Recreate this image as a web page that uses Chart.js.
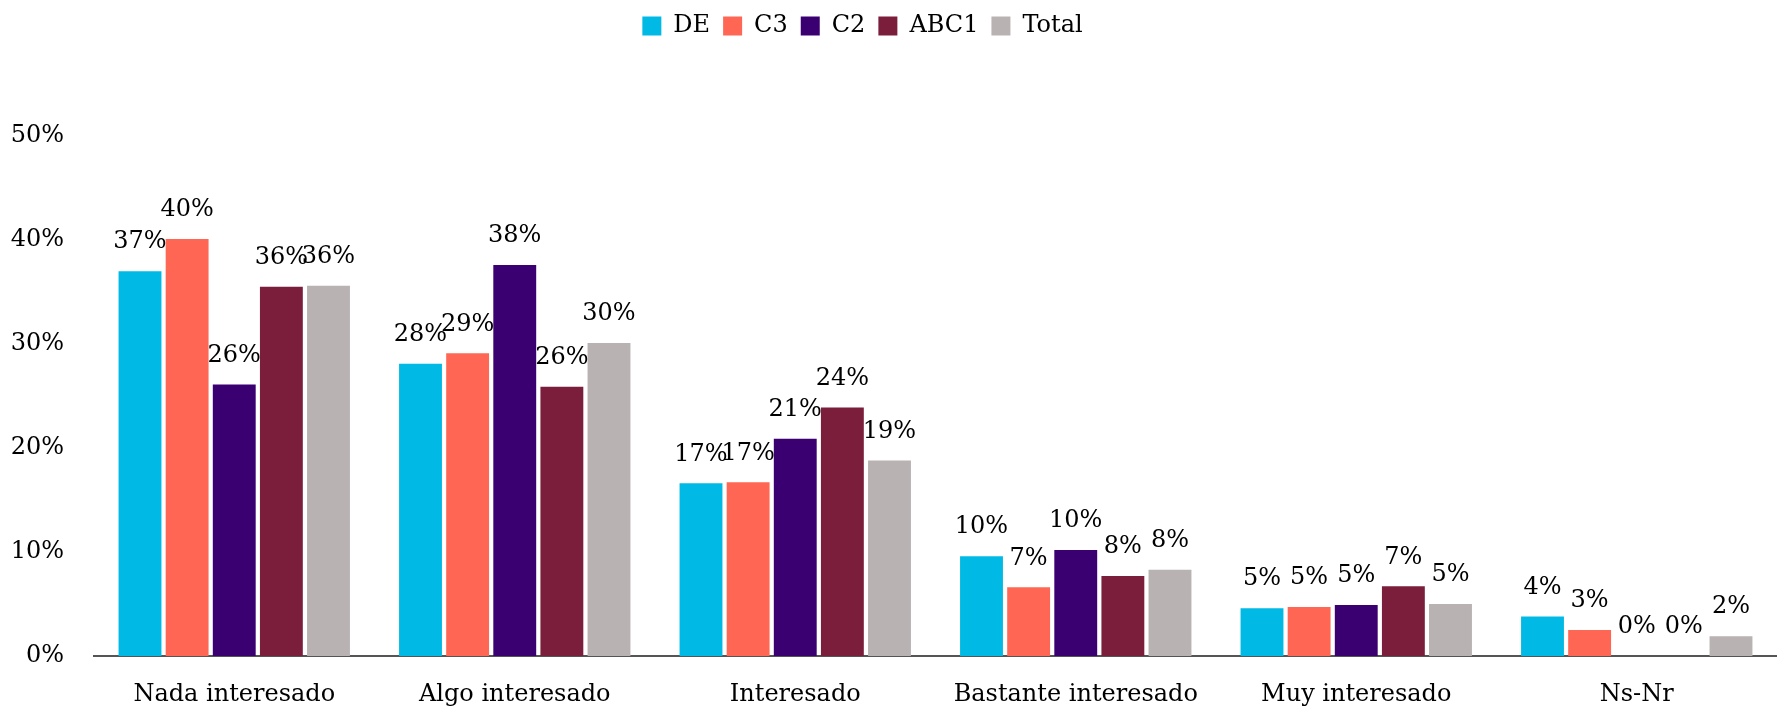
<!DOCTYPE html>
<html lang="es">
<head>
<meta charset="utf-8">
<title>Interés por nivel socioeconómico</title>
<script src="https://cdn.jsdelivr.net/npm/chart.js@4.4.1/dist/chart.umd.min.js"></script>
<style>
  html, body { margin: 0; padding: 0; background: #fff; }
  #wrap { width: 1777px; height: 711px; position: relative; }
</style>
</head>
<body>
<div id="wrap"><canvas id="chart"></canvas></div>
<script>
/* ============================================================
   DATA
============================================================ */
const categories = ['Nada interesado', 'Algo interesado', 'Interesado', 'Bastante interesado', 'Muy interesado', 'Ns-Nr'];
const seriesNames = ['DE', 'C3', 'C2', 'ABC1', 'Total'];
const valDE    = [37.0, 28.1, 16.6, 9.6, 4.6, 3.8];
const valC3    = [40.1, 29.1, 16.7, 6.6, 4.7, 2.5];
const valC2    = [26.1, 37.6, 20.9, 10.2, 4.9, 0];
const valABC1  = [35.5, 25.9, 23.9, 7.7, 6.7, 0];
const valTotal = [35.6, 30.1, 18.8, 8.3, 5.0, 1.9];
const yTicks = [0, 10, 20, 30, 40, 50];

const colors = ['#00b9e4', '#ff6754', '#3a0072', '#7a1e3c', '#b8b2b2'];
const FONT = "'DejaVu Serif', serif";

/* ============================================================
   PLUGINS — etiquetas de valor y leyenda
============================================================ */
const valueLabels = {
  id: 'valueLabels',
  afterDatasetsDraw(chart) {
    const { ctx } = chart;
    ctx.save();
    ctx.font = '24px ' + FONT;
    ctx.fillStyle = '#000';
    ctx.textAlign = 'center';
    ctx.textBaseline = 'bottom';
    chart.data.datasets.forEach((ds, i) => {
      chart.getDatasetMeta(i).data.forEach((bar, j) => {
        ctx.fillText(Math.round(ds.data[j]) + '%', bar.x, bar.y - 17);
      });
    });
    ctx.restore();
  }
};

// espacio bajo la leyenda + leyenda algo corrida a la izquierda
const legendGap = {
  id: 'legendGap',
  beforeInit(chart) {
    const fit = chart.legend.fit;
    chart.legend.fit = function () {
      fit.bind(chart.legend)();
      this.height += 88;
    };
  },
  afterUpdate(chart) {
    chart.legend.left -= 26;
    chart.legend.right -= 26;
  }
};

/* ============================================================
   CHART
============================================================ */
const series = [valDE, valC3, valC2, valABC1, valTotal];

new Chart(document.getElementById('chart'), {
  type: 'bar',
  data: {
    labels: categories,
    datasets: series.map((data, i) => ({
      label: seriesNames[i],
      data,
      backgroundColor: colors[i],
      barPercentage: 0.91,
      categoryPercentage: 0.84
    }))
  },
  options: {
    responsive: true,
    maintainAspectRatio: false,
    animation: false,
    layout: { padding: { top: 1, bottom: 0, left: 0, right: 0 } },
    plugins: {
      legend: {
        position: 'top',
        labels: {
          color: '#000',
          font: { family: FONT, size: 24 },
          boxWidth: 19,
          boxHeight: 19,
          padding: 13
        }
      },
      tooltip: { enabled: false }
    },
    scales: {
      x: {
        afterFit(scale) { scale.height = 55; },
        grid: { display: false },
        border: { display: true, color: '#555', width: 2 },
        ticks: { color: '#000', font: { family: FONT, size: 24 }, padding: 16, maxRotation: 0 }
      },
      y: {
        min: 0, max: 50,
        afterBuildTicks(scale) { scale.ticks = yTicks.map(v => ({ value: v })); },
        afterFit(scale) { scale.width = 94; },
        grid: { display: false },
        border: { display: false },
        ticks: {
          color: '#000',
          font: { family: FONT, size: 24 },
          padding: 22,
          callback: v => v + '%'
        }
      }
    }
  },
  plugins: [valueLabels, legendGap]
});
</script>
</body>
</html>
